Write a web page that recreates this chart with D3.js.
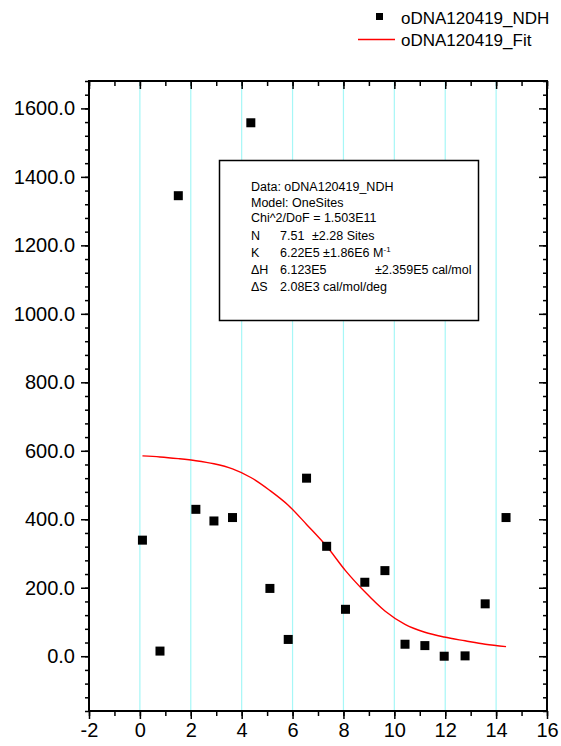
<!DOCTYPE html>
<html lang="en">
<head>
<meta charset="UTF-8">
<title>oDNA120419</title>
<script src="https://d3js.org/d3.v7.min.js"></script>
<style>
  body { margin: 0; background: #fff; }
  text { font-family: Arial, "Liberation Sans", sans-serif; fill: #000; }
</style>
</head>
<body>
<script>
// data
var dataX = [0.1, 0.79, 1.51, 2.2, 2.91, 3.64, 4.36, 5.11, 5.83, 6.55, 7.34, 8.08, 8.84, 9.63, 10.42, 11.2, 11.96, 12.78, 13.57, 14.39];
var dataY = [339, 15, 1345, 429, 395, 405, 1558, 198, 49, 520, 321, 137, 216, 250, 35, 31, 0, 1, 153, 405];
var fitY  = [585, 582, 577, 571, 562, 547, 522, 484, 441, 385, 321, 250, 188, 132, 93, 70, 56, 45, 35, 28];

var xMajor = [-2, 0, 2, 4, 6, 8, 10, 12, 14, 16];
var yMajor = [0, 200, 400, 600, 800, 1000, 1200, 1400, 1600];
var gridX = [0, 2, 4, 6, 8, 10, 12, 14];

var seriesNames = ["oDNA120419_NDH", "oDNA120419_Fit"];
var fitLines = [
  ["Data: oDNA120419_NDH"],
  ["Model: OneSites"],
  ["Chi^2/DoF = 1.503E11"],
  ["N", "7.51", "\u00b12.28 Sites"],
  ["K", "6.22E5 \u00b11.86E6 M"],
  ["\u0394H", "6.123E5", "\u00b12.359E5 cal/mol"],
  ["\u0394S", "2.08E3 cal/mol/deg"]
];

var w = 561, h = 746;
var margin = {top: 81, right: 14, bottom: 35, left: 89};

var svg = d3.select("body").append("svg")
  .attr("width", w)
  .attr("height", h);

var x = d3.scaleLinear().domain([-2, 16]).range([margin.left, w - margin.right]);
var y = d3.scaleLinear().domain([-160, 1680]).range([h - margin.bottom, margin.top]);

var xMinor = d3.range(-2, 16.01, 1);
var yMinor = d3.range(-160, 1680.01, 40);

// cyan grid lines
svg.append("g").selectAll("line")
  .data(gridX)
  .enter().append("line")
  .attr("x1", d => x(d)).attr("x2", d => x(d))
  .attr("y1", y(1680)).attr("y2", y(-160))
  .attr("stroke", "#a6f7f7")
  .attr("stroke-width", 1.2);

function styleAxis(g) {
  g.select(".domain").remove();
  g.selectAll("line").attr("stroke", "#000").attr("stroke-width", 1.5);
  g.selectAll("text").attr("font-size", "20px").attr("fill", "#000");
}

// minor ticks
svg.append("g").attr("transform", "translate(0," + y(-160) + ")")
  .call(d3.axisBottom(x).tickValues(xMinor).tickSize(5).tickFormat(""))
  .call(styleAxis);
svg.append("g").attr("transform", "translate(0," + y(1680) + ")")
  .call(d3.axisTop(x).tickValues(xMinor).tickSize(-5).tickFormat(""))
  .call(styleAxis);
svg.append("g").attr("transform", "translate(" + x(-2) + ",0)")
  .call(d3.axisLeft(y).tickValues(yMinor).tickSize(4).tickFormat(""))
  .call(styleAxis);
svg.append("g").attr("transform", "translate(" + x(16) + ",0)")
  .call(d3.axisRight(y).tickValues(yMinor).tickSize(-4).tickFormat(""))
  .call(styleAxis);

// major ticks
svg.append("g").attr("transform", "translate(0," + y(-160) + ")")
  .call(d3.axisBottom(x).tickValues(xMajor).tickSize(8).tickPadding(4).tickFormat(d => String(d)))
  .call(styleAxis);
svg.append("g").attr("transform", "translate(0," + y(1680) + ")")
  .call(d3.axisTop(x).tickValues(xMajor).tickSize(-8).tickFormat(""))
  .call(styleAxis);
svg.append("g").attr("transform", "translate(" + x(-2) + ",0)")
  .call(d3.axisLeft(y).tickValues(yMajor).tickSize(8).tickPadding(6).tickFormat(d => d.toFixed(1)))
  .call(styleAxis);
svg.append("g").attr("transform", "translate(" + x(16) + ",0)")
  .call(d3.axisRight(y).tickValues(yMajor).tickSize(-8).tickFormat(""))
  .call(styleAxis);

// frame
svg.append("rect")
  .attr("x", x(-2)).attr("y", y(1680))
  .attr("width", x(16) - x(-2)).attr("height", y(-160) - y(1680))
  .attr("fill", "none").attr("stroke", "#000").attr("stroke-width", 2);

// fit curve
var line = d3.line()
  .x((d, i) => x(dataX[i]))
  .y(d => y(d))
  .curve(d3.curveMonotoneX);
svg.append("path")
  .datum(fitY)
  .attr("d", line)
  .attr("fill", "none")
  .attr("stroke", "#ff0000")
  .attr("stroke-width", 1.4);

// data squares
var sq = 9;
svg.append("g").selectAll("rect")
  .data(dataY)
  .enter().append("rect")
  .attr("x", (d, i) => x(dataX[i]) - sq / 2)
  .attr("y", d => y(d) - sq / 2)
  .attr("width", sq).attr("height", sq)
  .attr("fill", "#000");

// legend
var legend = svg.append("g");
legend.append("rect")
  .attr("x", 376).attr("y", 13).attr("width", 7).attr("height", 7)
  .attr("fill", "#000");
legend.append("text")
  .attr("x", 401).attr("y", 24)
  .attr("font-size", "17px")
  .text(seriesNames[0]);
legend.append("line")
  .attr("x1", 358).attr("x2", 395).attr("y1", 39.5).attr("y2", 39.5)
  .attr("stroke", "#ff0000").attr("stroke-width", 1.4);
legend.append("text")
  .attr("x", 401).attr("y", 46)
  .attr("font-size", "17px")
  .text(seriesNames[1]);

// fit results box
var box = svg.append("g");
box.append("rect")
  .attr("x", 219.5).attr("y", 160.5).attr("width", 259).attr("height", 160)
  .attr("fill", "#fff").attr("stroke", "#000").attr("stroke-width", 1.5);

var rowY = [191, 207, 222, 240, 257, 274, 291];
var colX = [251, 280, 312];
fitLines.forEach(function(row, i) {
  row.forEach(function(t, j) {
    var cx = colX[j];
    if (i === 5 && j === 2) cx = 375;
    var txt = box.append("text")
      .attr("x", cx).attr("y", rowY[i])
      .attr("font-size", "12.5px")
      .text(t);
    if (i === 4 && j === 1) {
      txt.append("tspan")
        .attr("dy", -5)
        .attr("font-size", "8px")
        .text("-1");
    }
  });
});
</script>
</body>
</html>
